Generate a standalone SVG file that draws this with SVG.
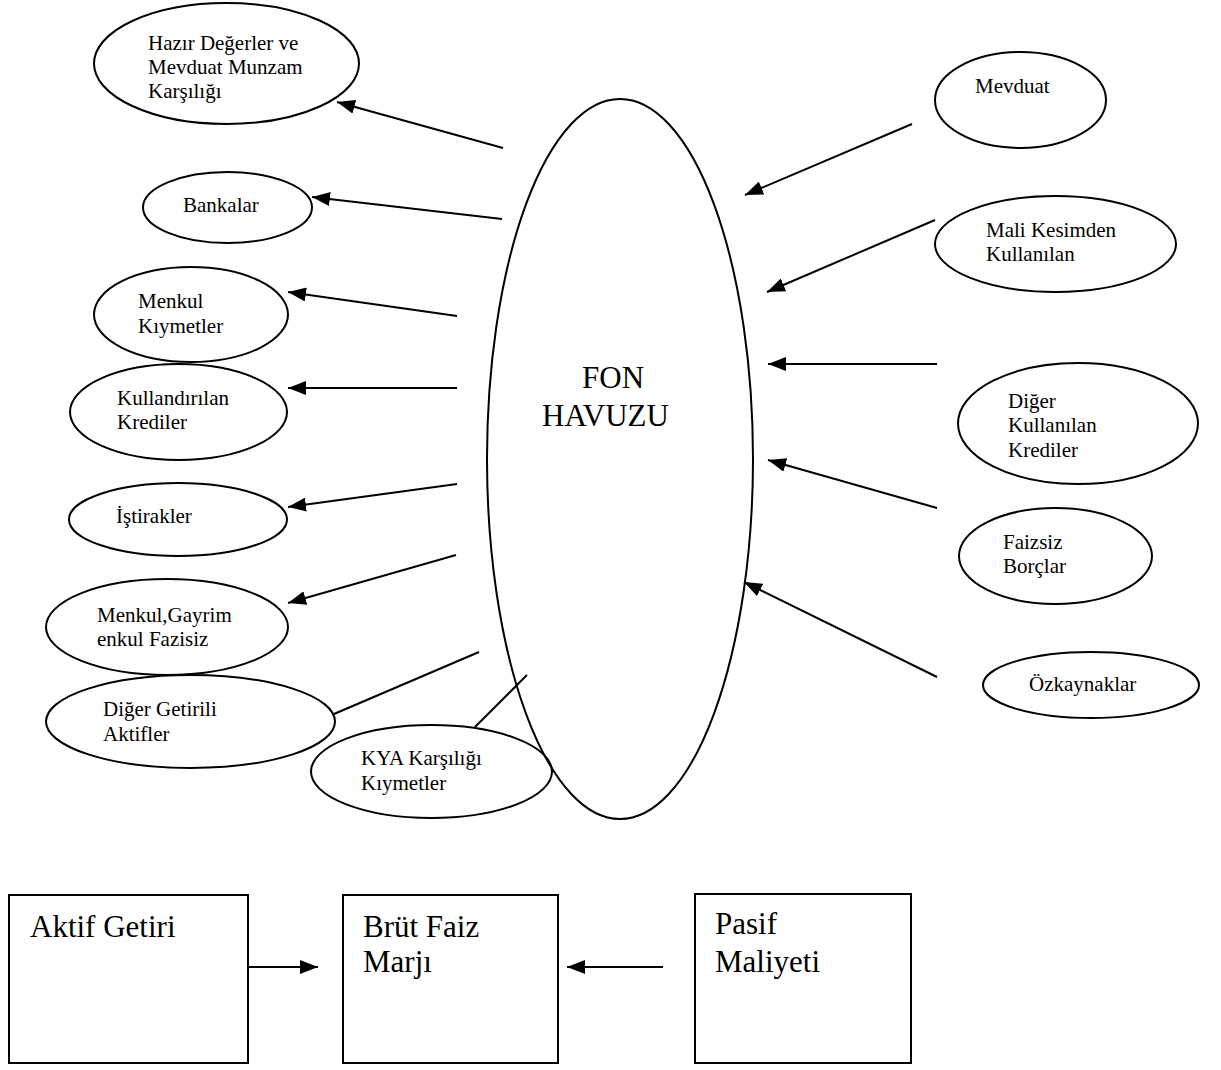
<svg xmlns="http://www.w3.org/2000/svg" width="1221" height="1070" viewBox="0 0 1221 1070">
<style>
  .n { fill: #fff; stroke: #000; stroke-width: 2; }
  .t { font-family: "Liberation Serif", "Times New Roman", serif; font-size: 21px; fill: #000; }
  .big { font-family: "Liberation Serif", "Times New Roman", serif; font-size: 31px; fill: #000; }
  .c { stroke: #000; stroke-width: 2; fill: none; }
  .a { marker-end: url(#ah); }
</style>
<defs>
  <marker id="ah" viewBox="0 0 18 14" refX="18" refY="7" markerWidth="18" markerHeight="14" markerUnits="userSpaceOnUse" orient="auto">
    <path d="M0,0 L18,7 L0,14 z" fill="#000"/>
  </marker>
</defs>
<rect width="1221" height="1070" fill="#fff"/>

<g id="fon-havuzu">
  <ellipse class="n" cx="620" cy="459" rx="133" ry="360"/>
  <text class="big" x="582" y="388">FON</text>
  <text class="big" x="542" y="426">HAVUZU</text>
</g>

<g id="hazir-degerler">
  <ellipse class="n" cx="226.5" cy="63.5" rx="132.5" ry="60.5"/>
  <text class="t" x="148" y="50">Hazır Değerler ve</text>
  <text class="t" x="148" y="74">Mevduat Munzam</text>
  <text class="t" x="148" y="98">Karşılığı</text>
</g>
<g id="bankalar">
  <ellipse class="n" cx="227.5" cy="207.5" rx="84.5" ry="35.5"/>
  <text class="t" x="183" y="212">Bankalar</text>
</g>
<g id="menkul-kiymetler">
  <ellipse class="n" cx="191" cy="314.5" rx="97" ry="47.5"/>
  <text class="t" x="138" y="308">Menkul</text>
  <text class="t" x="138" y="333">Kıymetler</text>
</g>
<g id="kullandirilan-krediler">
  <ellipse class="n" cx="178.5" cy="412" rx="108.5" ry="48"/>
  <text class="t" x="117" y="405">Kullandırılan</text>
  <text class="t" x="117" y="429">Krediler</text>
</g>
<g id="istirakler">
  <ellipse class="n" cx="178" cy="519.5" rx="109" ry="36.5"/>
  <text class="t" x="116" y="523">İştirakler</text>
</g>
<g id="menkul-gayrimenkul">
  <ellipse class="n" cx="167" cy="627" rx="121" ry="48"/>
  <text class="t" x="97" y="622">Menkul,Gayrim</text>
  <text class="t" x="97" y="646">enkul Fazisiz</text>
</g>
<g id="diger-getirili-aktifler">
  <ellipse class="n" cx="190.5" cy="721.5" rx="144.5" ry="46.5"/>
  <text class="t" x="103" y="716">Diğer Getirili</text>
  <text class="t" x="103" y="741">Aktifler</text>
</g>
<g id="kya-karsiligi">
  <ellipse class="n" cx="431.5" cy="771.5" rx="120.5" ry="46.5" fill="none" style="fill:none"/>
  <text class="t" x="361" y="765">KYA Karşılığı</text>
  <text class="t" x="361" y="790">Kıymetler</text>
</g>

<g id="mevduat">
  <ellipse class="n" cx="1020.5" cy="100" rx="85.5" ry="48"/>
  <text class="t" x="975" y="93">Mevduat</text>
</g>
<g id="mali-kesimden">
  <ellipse class="n" cx="1055.5" cy="244" rx="120.5" ry="48"/>
  <text class="t" x="986" y="237">Mali Kesimden</text>
  <text class="t" x="986" y="261">Kullanılan</text>
</g>
<g id="diger-kullanilan-krediler">
  <ellipse class="n" cx="1078" cy="423.5" rx="120" ry="60.5"/>
  <text class="t" x="1008" y="408">Diğer</text>
  <text class="t" x="1008" y="432">Kullanılan</text>
  <text class="t" x="1008" y="457">Krediler</text>
</g>
<g id="faizsiz-borclar">
  <ellipse class="n" cx="1055.5" cy="556" rx="96.5" ry="48"/>
  <text class="t" x="1003" y="549">Faizsiz</text>
  <text class="t" x="1003" y="573">Borçlar</text>
</g>
<g id="ozkaynaklar">
  <ellipse class="n" cx="1091" cy="685" rx="108" ry="33"/>
  <text class="t" x="1029" y="691">Özkaynaklar</text>
</g>

<g id="aktif-getiri">
  <rect class="n" x="9" y="895" width="239" height="168"/>
  <text class="big" x="30" y="937">Aktif Getiri</text>
</g>
<g id="brut-faiz-marji">
  <rect class="n" x="343" y="895" width="215" height="168"/>
  <text class="big" x="363" y="937">Brüt Faiz</text>
  <text class="big" x="363" y="972">Marjı</text>
</g>
<g id="pasif-maliyeti">
  <rect class="n" x="695" y="894" width="216" height="169"/>
  <text class="big" x="715" y="934">Pasif</text>
  <text class="big" x="715" y="972">Maliyeti</text>
</g>

<g id="connectors">
  <line class="c a" x1="503" y1="148" x2="337" y2="102"/>
  <line class="c a" x1="502" y1="219" x2="312" y2="197"/>
  <line class="c a" x1="457" y1="316" x2="288" y2="292"/>
  <line class="c a" x1="457" y1="388" x2="288" y2="388"/>
  <line class="c a" x1="457" y1="484" x2="288" y2="507"/>
  <line class="c a" x1="456" y1="555" x2="288" y2="603"/>
  <line class="c" x1="479" y1="652" x2="334" y2="714"/>
  <line class="c" x1="527" y1="675" x2="475" y2="727"/>

  <line class="c a" x1="912" y1="124" x2="745" y2="195"/>
  <line class="c a" x1="935" y1="220" x2="767" y2="292"/>
  <line class="c a" x1="937" y1="364" x2="768" y2="364"/>
  <line class="c a" x1="937" y1="508" x2="768" y2="460"/>
  <line class="c a" x1="937" y1="677" x2="744" y2="582"/>

  <line class="c a" x1="247" y1="967" x2="318" y2="967"/>
  <line class="c a" x1="663" y1="967" x2="567" y2="967"/>
</g>
</svg>
